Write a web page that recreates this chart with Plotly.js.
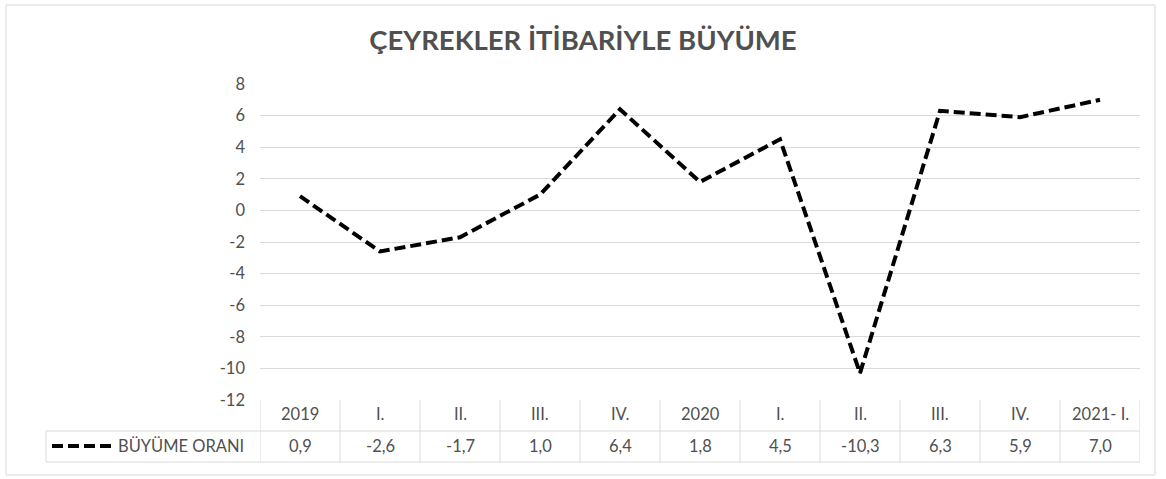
<!DOCTYPE html>
<html>
<head>
<meta charset="utf-8">
<script src="https://cdn.plot.ly/plotly-3.0.1.min.js"></script>
<style>
html,body{margin:0;padding:0;background:#fff;}
#chart{width:1166px;height:479px;}
</style>
</head>
<body>
<div id="chart"></div>
<script>
const categories = ["2019", "I.", "II.", "III.", "IV.", "2020", "I.", "II.", "III.", "IV.", "2021- I."];
const growth = [0.9, -2.6, -1.7, 1.0, 6.4, 1.8, 4.5, -10.3, 6.3, 5.9, 7.0];
const seriesName = "BÜYÜME ORANI";
const chartTitle = "ÇEYREKLER İTİBARİYLE BÜYÜME";
const yTickVals = [-12, -10, -8, -6, -4, -2, 0, 2, 4, 6, 8];
const yTickText = ["-12", "-10", "-8", "-6", "-4", "-2", "0", "2", "4", "6", "8"];

const W = 1166, H = 479;
const L = 260, R = 1140, T = 84, B = 400;
const pw = R - L, ph = B - T;
const px = x => (x - L) / pw;
const py = y => (B - y) / ph;

const FONT = "Lato, 'Open Sans', sans-serif";
const TXT = "#505050";
const GRID = "#d9d9d9";
const FS = 16.5;

const xIdx = categories.map((_, i) => i);
const fmt = v => v.toFixed(1).replace(".", ",");

const row1 = 414, row2 = 446;
const rowLine1 = 431, rowLine2 = 462;

const shapes = [];
// outer frame
shapes.push({type: "rect", xref: "paper", yref: "paper",
  x0: px(6), x1: px(1155), y0: py(475), y1: py(5),
  line: {color: GRID, width: 1}, fillcolor: "rgba(0,0,0,0)", layer: "below"});
// table horizontal lines
shapes.push({type: "line", xref: "paper", yref: "paper", x0: px(46), x1: 1, y0: py(rowLine1), y1: py(rowLine1), line: {color: GRID, width: 1}});
shapes.push({type: "line", xref: "paper", yref: "paper", x0: px(46), x1: 1, y0: py(rowLine2), y1: py(rowLine2), line: {color: GRID, width: 1}});
shapes.push({type: "line", xref: "paper", yref: "paper", x0: px(46), x1: px(46), y0: py(rowLine1), y1: py(rowLine2), line: {color: GRID, width: 1}});
// table vertical lines
for (let i = 0; i <= categories.length; i++) {
  shapes.push({type: "line", xref: "x", yref: "paper", x0: i - 0.5, x1: i - 0.5, y0: 0, y1: py(rowLine2), line: {color: GRID, width: 1}});
}
// legend key
shapes.push({type: "line", xref: "paper", yref: "paper", x0: px(52), x1: px(113), y0: py(row2), y1: py(row2),
  line: {color: "#000", width: 4, dash: "11px,5px"}});

const annotations = [];
categories.forEach((c, i) => {
  annotations.push({x: i, xref: "x", y: py(row1), yref: "paper", text: c, showarrow: false,
    font: {family: FONT, size: FS, color: TXT}, xanchor: "center", yanchor: "middle"});
  annotations.push({x: i, xref: "x", y: py(row2), yref: "paper", text: fmt(growth[i]), showarrow: false,
    font: {family: FONT, size: FS, color: TXT}, xanchor: "center", yanchor: "middle"});
});
annotations.push({x: px(116), xref: "paper", y: py(row2), yref: "paper", text: seriesName, showarrow: false,
  font: {family: FONT, size: FS, color: TXT}, xanchor: "left", yanchor: "middle"});

const trace = {
  x: xIdx, y: growth, type: "scatter", mode: "lines", name: seriesName,
  line: {color: "#000", width: 4, dash: "11px,5px"},
  hoverinfo: "skip"
};

const layout = {
  width: W, height: H,
  margin: {l: L, r: W - R, t: T, b: H - B, pad: 0},
  paper_bgcolor: "#fff", plot_bgcolor: "#fff",
  showlegend: false,
  title: {text: chartTitle, font: {family: FONT, size: 27.5, color: TXT, weight: "bold"},
    x: 0.5, xref: "container", xanchor: "center", y: 1 - 40 / H, yref: "container", yanchor: "middle"},
  xaxis: {range: [-0.5, categories.length - 0.5], showgrid: false, zeroline: false,
    showticklabels: false, ticks: "", showline: false, fixedrange: true},
  yaxis: {range: [-12, 8], tickvals: yTickVals, ticktext: yTickText, showgrid: true,
    gridcolor: GRID, gridwidth: 1, zeroline: false, showline: false, ticks: "",
    ticklabelstandoff: 14,
    tickfont: {family: FONT, size: FS, color: TXT}, fixedrange: true},
  shapes: shapes,
  annotations: annotations
};

Plotly.newPlot("chart", [trace], layout, {displayModeBar: false, staticPlot: true});
</script>
</body>
</html>
